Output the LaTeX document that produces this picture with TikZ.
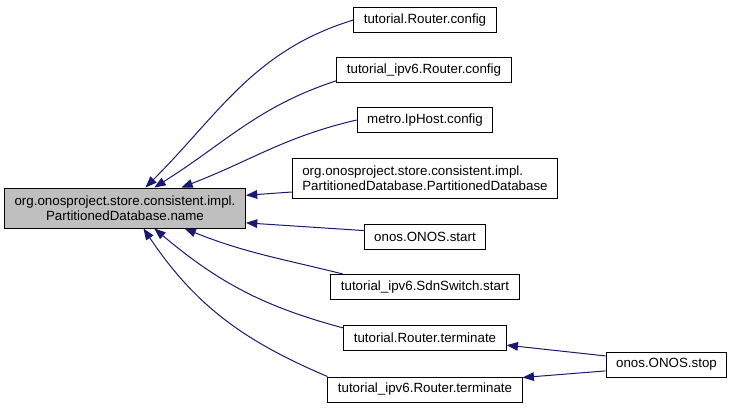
\documentclass[tikz,border=0pt]{standalone}
\usepackage{fontspec}
\setmainfont{Liberation Sans}
\usetikzlibrary{arrows.meta}
\definecolor{edgeblue}{HTML}{191970}
\definecolor{focusgray}{HTML}{BFBFBF}
\tikzset{
 fn/.style={draw=black,fill=white,line width=0.75pt,minimum height=18.75pt,
  inner xsep=7.5pt,inner ysep=2pt,font=\fontsize{10}{11.5}\selectfont},
 focus/.style={fn,fill=focusgray,align=center,minimum width=180pt,minimum height=30pt},
 dep/.style={draw=edgeblue,line width=0.75pt,-{Triangle[length=8.5pt,width=6.5pt]}}
}
\begin{document}
\begin{tikzpicture}[x=0.75pt,y=0.75pt]
\useasboundingbox (0,0) rectangle (733,-408);
% function and its callers
\node[focus] (target) at (125,-208) {org.onosproject.store.consistent.impl.\\PartitionedDatabase.name};
\node[fn] (rcfg) at (425,-20) {tutorial.Router.config};
\node[fn] (r6cfg) at (424,-70) {tutorial\_ipv6.Router.config};
\node[fn] (ipcfg) at (425,-120) {metro.IpHost.config};
\node[fn,align=left,minimum height=30pt] (pdb) at (425,-178) {org.onosproject.store.consistent.impl.\\PartitionedDatabase.PartitionedDatabase};
\node[fn] (ostart) at (425,-237) {onos.ONOS.start};
\node[fn] (sdn) at (425,-287) {tutorial\_ipv6.SdnSwitch.start};
\node[fn] (rterm) at (425,-338) {tutorial.Router.terminate};
\node[fn] (r6term) at (425,-389.5) {tutorial\_ipv6.Router.terminate};
\node[fn] (ostop) at (666.5,-364.5) {onos.ONOS.stop};
% call edges
\draw[dep] (rcfg.west) to[out=197,in=45] (target.45);
\draw[dep] (r6cfg.187) to[out=198,in=32] (target.35);
\draw[dep] (ipcfg.west) to[out=193,in=21] (target.20);
\draw[dep] (pdb.186) -- (target.6);
\draw[dep] (ostart.174) -- (target.-7);
\draw[dep] (sdn.171) to[out=166,in=-22] (target.-19);
\draw[dep] (rterm.173) to[out=165,in=-40] (target.-35);
\draw[dep] (r6term.north west) to[out=157,in=-56] (target.-48);
\draw[dep] (ostop.172) -- (rterm.-5);
\draw[dep] (ostop.186) -- (r6term.7);
\end{tikzpicture}
\end{document}
